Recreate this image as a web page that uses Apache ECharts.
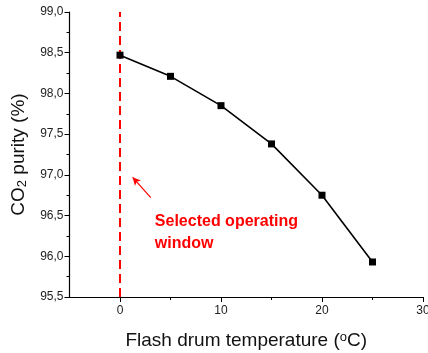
<!DOCTYPE html>
<html>
<head>
<meta charset="utf-8">
<script src="https://cdn.jsdelivr.net/npm/echarts@6/dist/echarts.min.js"></script>
<style>
	html, body { margin: 0; padding: 0; background: #fff; }
	#chart { width: 428px; height: 353px; }
</style>
</head>
<body>
<div id="chart"></div>
<script>
// flash drum temperature (°C) vs CO2 purity (%)
const temps = [0, 5, 10, 15, 20, 25]
const purity = [98.47, 98.21, 97.85, 97.38, 96.75, 95.93]
const xMajor = [0, 10, 20, 30]
const xMinor = [5, 15, 25]
const xRange = [-5, 30]
const yTicks = [95.5, 99.0, 0.5]   // min, max, interval
const windowTemp = 0
const arrowFrom = [3.05, 96.72]
const arrowTo = [1.25, 96.97]
const notePos = [3.45, 96.29]
const noteText = 'Selected operating\nwindow'

const font = 'Arial, "Liberation Sans", sans-serif'
const red = '#ff0000'
const myChart = echarts.init(document.getElementById('chart'))

const fmt = (v) => v.toFixed(1).replace('.', ',')

const option = {
	animation: false,
	grid: { left: 69.5, right: 5, top: 12, bottom: 56, outerBoundsMode: 'none' },
	xAxis: [
		{
			type: 'value',
			min: xRange[0],
			max: xRange[1],
			interval: 5,
			splitLine: { show: false },
			axisLine: { onZero: false, lineStyle: { color: '#000', width: 1.2 } },
			axisTick: { length: 5, customValues: xMajor, lineStyle: { color: '#000' } },
			axisLabel: {
				color: '#222', fontSize: 12, fontFamily: font, margin: 8,
				customValues: xMajor
			},
			name: '{a|Flash drum temperature (}{s|o}{a|C)}',
			nameLocation: 'middle',
			nameGap: 33,
			nameTextStyle: {
				rich: {
					a: { fontSize: 19, fontFamily: font, color: '#111', lineHeight: 22 },
					s: { fontSize: 13, fontFamily: font, color: '#111', lineHeight: 22, padding: [0, 0, 8, 0] }
				}
			}
		},
		{
			// minor ticks only
			type: 'value',
			position: 'bottom',
			min: xRange[0],
			max: xRange[1],
			interval: 5,
			splitLine: { show: false },
			axisLine: { show: false, onZero: false },
			axisTick: { show: true, length: 3, customValues: xMinor, lineStyle: { color: '#000' } },
			axisLabel: { show: false }
		}
	],
	yAxis: {
		type: 'value',
		min: yTicks[0],
		max: yTicks[1],
		interval: yTicks[2],
		splitLine: { show: false },
		axisLine: { show: true, onZero: false, lineStyle: { color: '#000', width: 1.2 } },
		axisTick: { show: true, length: 5, lineStyle: { color: '#000' } },
		minorTick: { show: true, splitNumber: 2, length: 3, lineStyle: { color: '#000' } },
		axisLabel: { color: '#222', fontSize: 12, fontFamily: font, margin: 6, formatter: fmt },
		name: '{a|CO}{s|2}{a| purity (%)}',
		nameLocation: 'middle',
		nameGap: 40,
		nameTextStyle: {
			rich: {
				a: { fontSize: 19, fontFamily: font, color: '#111', lineHeight: 22 },
				s: { fontSize: 13, fontFamily: font, color: '#111', lineHeight: 22, padding: [8, 0, 0, 0] }
			}
		}
	},
	series: [
		{
			type: 'line',
			data: temps.map((t, i) => [t, purity[i]]),
			symbol: 'rect',
			symbolSize: 7,
			itemStyle: { color: '#000' },
			lineStyle: { color: '#000', width: 1.6 },
			z: 5,
			markLine: {
				silent: true,
				symbol: 'none',
				label: { show: false },
				lineStyle: { color: red, width: 2, type: [9, 5] },
				data: [{ xAxis: windowTemp }]
			},
			markPoint: {
				silent: true,
				symbol: 'circle',
				symbolSize: 0,
				data: [{ coord: notePos, value: noteText }],
				label: {
					show: true,
					position: 'right',
					distance: 0,
					formatter: noteText,
					align: 'left',
					color: red,
					fontWeight: 'bold',
					fontSize: 16,
					lineHeight: 22,
					fontFamily: font
				}
			}
		},
		{
			type: 'line',
			data: [],
			silent: true,
			markLine: {
				silent: true,
				symbol: ['none', 'arrow'],
				symbolSize: [6, 8],
				label: { show: false },
				lineStyle: { color: red, width: 1.2, type: 'solid' },
				data: [[{ coord: arrowFrom }, { coord: arrowTo }]]
			}
		}
	]
}

myChart.setOption(option)
</script>
</body>
</html>
